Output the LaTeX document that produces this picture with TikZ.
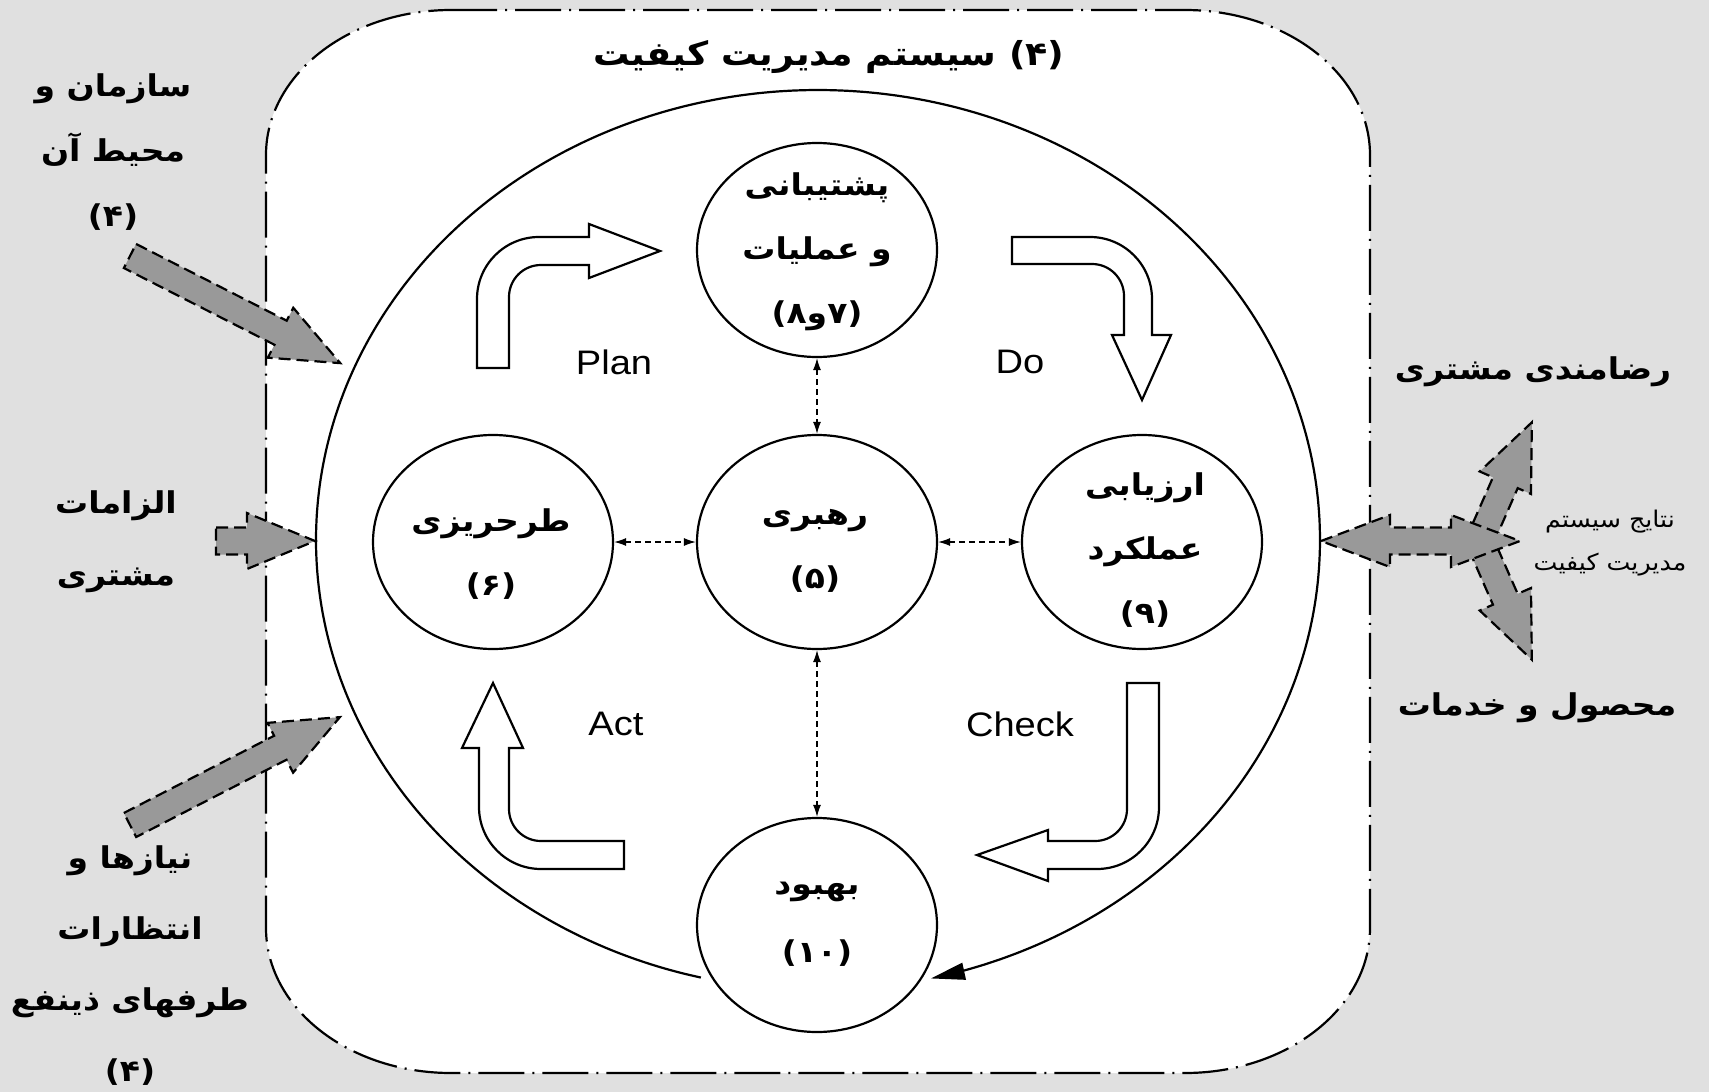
\documentclass[tikz,border=0pt]{standalone}
\usepackage{fontspec}
\usepackage{graphicx}
\setmainfont{Liberation Sans}
\newfontfamily\fa[Script=Arabic]{DejaVu Sans}
\TeXXeTstate=1
\usetikzlibrary{arrows.meta,shapes.geometric}
\definecolor{bgc}{HTML}{E0E0E0}
\definecolor{garc}{HTML}{999999}
\newcommand{\prs}[1]{\scalebox{1.1}[1]{\beginR #1\endR}}
\newcommand{\eng}[1]{\scalebox{1.12}[1]{#1}}
\newcommand{\blockarrow}[4]{%
\begin{scope}[shift={#1},rotate=#2]
\draw[garrow] (0,-13.5) -- ({#3-#4},-13.5) -- ({#3-#4},-28) -- (#3,0) -- ({#3-#4},28) -- ({#3-#4},13.5) -- (0,13.5) -- cycle;
\end{scope}}
\begin{document}
\begin{tikzpicture}[x=1pt,y=-1pt,
  circ/.style={ellipse, draw, fill=white, line width=2.2pt, minimum width=240pt, minimum height=214pt, inner sep=0pt},
  ptext/.style={font=\fa\bfseries\fontsize{30}{64}\selectfont, align=center, inner sep=0pt},
  stext/.style={font=\fa\fontsize{23}{43}\selectfont, align=center, inner sep=0pt},
  englabel/.style={font=\fontsize{34}{40}\selectfont, inner sep=0pt},
  hollow/.style={draw, fill=white, line width=2.2pt, line join=miter},
  garrow/.style={draw, fill=garc, line width=2.2pt, dash pattern=on 12pt off 6pt},
  link/.style={line width=1.3pt, dash pattern=on 6pt off 4pt, {Latex[length=12pt,width=8pt]}-{Latex[length=12pt,width=8pt]}},
  frame/.style={draw, fill=white, line width=2.2pt, dash pattern=on 46pt off 8pt on 2pt off 8pt}]
\fill[bgc] (0,0) rectangle (1709,1092);
\useasboundingbox (0,0) rectangle (1709,1092);
% quality management system frame
\path[frame] (451,10) -- (1185,10) .. controls (1287.2,10) and (1370,74.9) .. (1370,155) -- (1370,928) .. controls (1370,1008.1) and (1287.2,1073) .. (1185,1073) -- (451,1073) .. controls (348.8,1073) and (266,1008.1) .. (266,928) -- (266,155) .. controls (266,74.9) and (348.8,10) .. (451,10) -- cycle;
\node[ptext, font=\fa\bfseries\fontsize{33}{40}\selectfont] (title) at (829,57) {\prs{(۴) سیستم مدیریت کیفیت}};
% big cycle
\draw[line width=2.2pt, -{Triangle[length=34pt,width=17pt]}] plot[domain=103.5:437, samples=160, smooth] ({818+502*cos(\x)},{540+450*sin(\x)});
% PDCA hollow arrows
\path[hollow] (477,368) -- (477,299) .. controls (477,264.8) and (504.8,237) .. (539,237) -- (589,237) -- (589,224) -- (660,251) -- (589,278) -- (589,265) -- (541,265) .. controls (523.3,265) and (509,279.3) .. (509,297) -- (509,368) -- cycle;
\path[hollow] (1012,237) -- (1090,237) .. controls (1124.2,237) and (1152,264.8) .. (1152,299) -- (1152,335) -- (1171,335) -- (1142,400) -- (1112,335) -- (1124,335) -- (1124,296) .. controls (1124,278.3) and (1109.7,264) .. (1092,264) -- (1012,264) -- cycle;
\path[hollow] (1127,683) -- (1159,683) -- (1159,807) .. controls (1159,841.2) and (1131.2,869) .. (1097,869) -- (1048,869) -- (1048,881) -- (977,855) -- (1048,830) -- (1048,841) -- (1095,841) .. controls (1112.7,841) and (1127,826.7) .. (1127,809) -- cycle;
\path[hollow] (624,841) -- (624,869) -- (541,869) .. controls (506.8,869) and (479,841.2) .. (479,807) -- (479,748) -- (462,748) -- (493,683) -- (523,748) -- (509,748) -- (509,809) .. controls (509,826.7) and (523.3,841) .. (541,841) -- cycle;
\node[englabel] (lplan) at (614,362) {\eng{Plan}};
\node[englabel] (ldo) at (1020,362) {\eng{Do}};
\node[englabel] (lact) at (616,724) {\eng{Act}};
\node[englabel] (lcheck) at (1020,724) {\eng{Check}};
% circles
\node[circ] (ops) at (817,250) {};
\node[circ] (lead) at (817,542) {};
\node[circ] (plan) at (493,542) {};
\node[circ] (eval) at (1142,542) {};
\node[circ] (impr) at (817,925) {};
\node[ptext] (opst) at (817,252) {\prs{پشتیبانی}\\\prs{و عملیات}\\\prs{(۷و۸)}};
\node[ptext] (leadt) at (815,551) {\prs{رهبری}\\\prs{(۵)}};
\node[ptext] (plant) at (491,554) {\prs{طرحریزی}\\\prs{(۶)}};
\node[ptext] (evalt) at (1145,550) {\prs{ارزیابی}\\\prs{عملکرد}\\\prs{(۹)}};
\node[ptext, font=\fa\bfseries\fontsize{30}{68}\selectfont] (imprt) at (817,924) {\prs{بهبود}\\\prs{(۱۰)}};
\draw[link] (ops.south) -- (lead.north);
\draw[link] (plan.east) -- (lead.west);
\draw[link] (lead.east) -- (eval.west);
\draw[link] (lead.south) -- (impr.north);
% inputs
\node[ptext, font=\fa\bfseries\fontsize{30}{65}\selectfont] (org) at (113,152) {\prs{سازمان و}\\\prs{محیط آن}\\\prs{(۴)}};
\node[ptext, font=\fa\bfseries\fontsize{30}{72}\selectfont] (req) at (116,542) {\prs{الزامات}\\\prs{مشتری}};
\node[ptext, font=\fa\bfseries\fontsize{30}{71}\selectfont] (needs) at (130,966) {\prs{نیازها و}\\\prs{انتظارات}\\\prs{طرفهای ذینفع}\\\prs{(۴)}};
\blockarrow{(130,256)}{-27}{236}{67}
\blockarrow{(216,541)}{0}{99}{68}
\blockarrow{(130,825)}{27.2}{236}{67}
% outputs
\blockarrow{(1478,545)}{66.3}{134}{66}
\blockarrow{(1478,537)}{-66.3}{134}{66}
\draw[garrow] (1321,541) -- (1390,515) -- (1390,527.5) -- (1451,527.5) -- (1451,515) -- (1520,541) -- (1451,567) -- (1451,554.5) -- (1390,554.5) -- (1390,567) -- cycle;
\node[ptext] (sat) at (1533,372) {\prs{رضامندی مشتری}};
\node[ptext] (prod) at (1537,708) {\prs{محصول و خدمات}};
\node[stext] (res) at (1610,543) {\prs{نتایج سیستم}\\\prs{مدیریت کیفیت}};
\end{tikzpicture}
\end{document}
